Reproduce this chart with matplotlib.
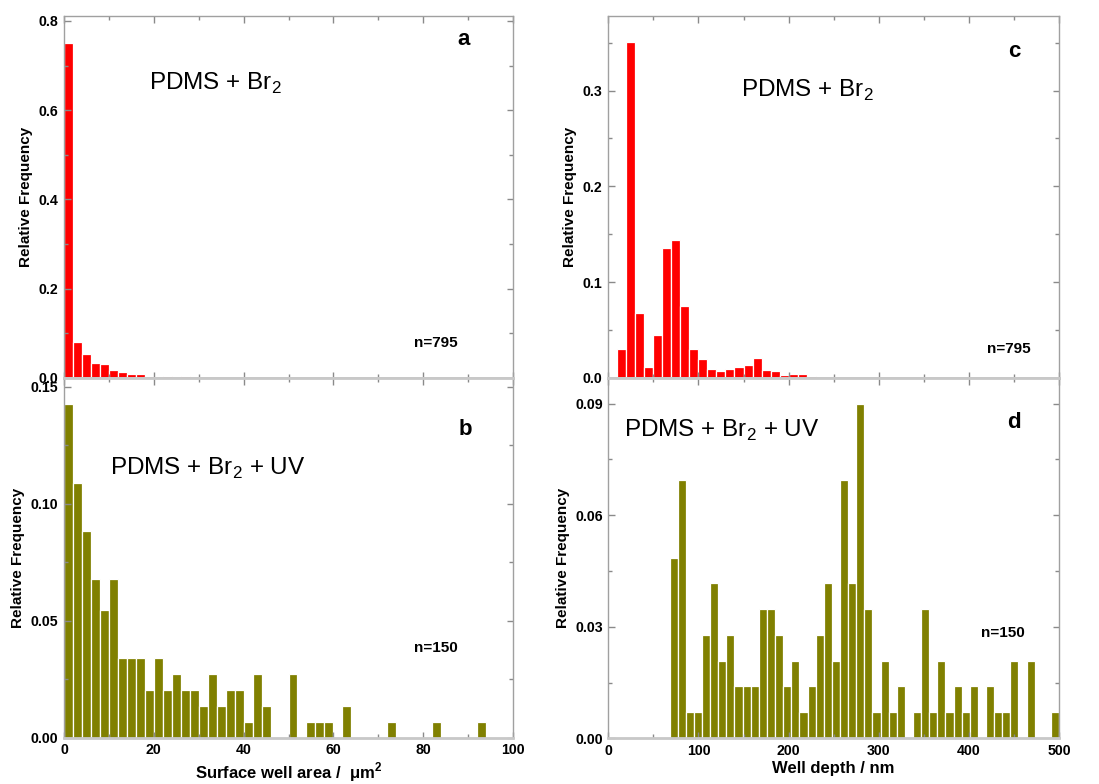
import numpy as np
import matplotlib
matplotlib.use("Agg")
import matplotlib.pyplot as plt
from matplotlib.ticker import MultipleLocator, FormatStrFormatter

plt.rcParams['font.family'] = ['Liberation Sans', 'DejaVu Sans']
plt.rcParams['mathtext.fontset'] = 'custom'
plt.rcParams['mathtext.rm'] = 'Liberation Sans'

# ---------------- data ----------------
# panel a: surface well area, PDMS + Br2 (bins of 2 um^2 starting at 0)
area_bin_width = 2
area_br2_freq = [0.7514, 0.079, 0.053, 0.033, 0.030, 0.018, 0.0135, 0.0075, 0.0075,
                 0.0045, 0.002, 0.0037, 0.0, 0.0045, 0.002, 0.002, 0.0, 0.0, 0.002]
# panel b: surface well area, PDMS + Br2 + UV
area_uv_freq = [0.1425, 0.1087, 0.0883, 0.0678, 0.0544, 0.0678, 0.0339, 0.0339, 0.0339,
                0.0202, 0.0339, 0.0202, 0.0271, 0.0202, 0.0202, 0.0134, 0.0271, 0.0134,
                0.0202, 0.0202, 0.0067, 0.0271, 0.0134, 0.0, 0.0, 0.0271, 0.0, 0.0067,
                0.0067, 0.0067, 0.0, 0.0134, 0.0, 0.0, 0.0, 0.0, 0.0067, 0.0, 0.0, 0.0,
                0.0, 0.0067, 0.0, 0.0, 0.0, 0.0, 0.0067]
# panel c: well depth, PDMS + Br2 (bins of 10 nm starting at 10)
depth_br2_start = 10
depth_br2_width = 10
depth_br2_freq = [0.0296, 0.3505, 0.0673, 0.0112, 0.0446, 0.1353, 0.1444, 0.075, 0.0296,
                  0.0192, 0.0091, 0.0066, 0.0091, 0.0112, 0.0129, 0.0202, 0.008, 0.0066,
                  0.0028, 0.0038, 0.0038, 0.0017]
# panel d: well depth, PDMS + Br2 + UV (bins of 9 nm starting at 68)
depth_uv_start = 68
depth_uv_width = 9
depth_uv_freq = [0.0485, 0.0694, 0.007, 0.007, 0.0278, 0.0417, 0.0209, 0.0278, 0.014,
                 0.014, 0.014, 0.0347, 0.0347, 0.0278, 0.014, 0.0209, 0.007, 0.014,
                 0.0278, 0.0417, 0.0209, 0.0694, 0.0417, 0.0898, 0.0347, 0.007, 0.0209,
                 0.007, 0.014, 0.0, 0.007, 0.0347, 0.007, 0.0209, 0.007, 0.014, 0.007,
                 0.014, 0.0, 0.014, 0.007, 0.007, 0.0209, 0.0, 0.0209, 0.0, 0.0, 0.007]

panel_letters = ['a', 'b', 'c', 'd']
sample_labels = [r'PDMS + Br$_\mathregular{2}$', r'PDMS + Br$_\mathregular{2}$ + UV',
                 r'PDMS + Br$_\mathregular{2}$', r'PDMS + Br$_\mathregular{2}$ + UV']
n_labels = ['n=795', 'n=150', 'n=795', 'n=150']

RED = '#ff0000'
OLIVE = '#808000'

fig = plt.figure(figsize=(10.99, 7.84), dpi=100)
W, H = 1099, 784

def mk(x0, x1, ytop, ybot):
    return fig.add_axes([x0 / W, 1 - ybot / H, (x1 - x0) / W, (ybot - ytop) / H])

ax_a = mk(64, 513, 16, 377.7)
ax_b = mk(64, 513, 377.7, 737.7)
ax_c = mk(608.3, 1059, 16, 377.7)
ax_d = mk(608.3, 1059, 377.7, 738.3)

def bars(ax, start, width, vals, color):
    left = start + width * np.arange(len(vals))
    ax.bar(left, vals, width=width, align='edge', color=color,
           edgecolor='white', linewidth=0.9)

bars(ax_a, 0, area_bin_width, area_br2_freq, RED)
bars(ax_b, 0, area_bin_width, area_uv_freq, OLIVE)
bars(ax_c, depth_br2_start, depth_br2_width, depth_br2_freq, RED)
bars(ax_d, depth_uv_start, depth_uv_width, depth_uv_freq, OLIVE)

cfg = [
    (ax_a, (0, 100), (0, 0.811), 0.2, 0.1, '%.1f', 20, 10),
    (ax_b, (0, 100), (0, 0.1538), 0.05, 0.025, '%.2f', 20, 10),
    (ax_c, (0, 500), (0, 0.378), 0.1, 0.05, '%.1f', 100, 50),
    (ax_d, (0, 500), (0, 0.097), 0.03, 0.015, '%.2f', 100, 50),
]
for ax, xl, yl, ymaj, ymin, fmt, xmaj, xmin in cfg:
    ax.set_xlim(*xl)
    ax.set_ylim(*yl)
    ax.yaxis.set_major_locator(MultipleLocator(ymaj))
    ax.yaxis.set_minor_locator(MultipleLocator(ymin))
    ax.yaxis.set_major_formatter(FormatStrFormatter(fmt))
    ax.xaxis.set_major_locator(MultipleLocator(xmaj))
    ax.xaxis.set_minor_locator(MultipleLocator(xmin))
    ax.tick_params(which='both', direction='in', top=True, right=True,
                   color='#8a8a8a', width=1.0)
    ax.tick_params(which='major', length=6.5 * 72 / 100, labelsize=10.2, pad=4)
    ax.tick_params(which='minor', length=4 * 72 / 100)
    for lab in ax.get_xticklabels() + ax.get_yticklabels():
        lab.set_fontweight('bold')
    for s in ['left', 'right', 'top']:
        ax.spines[s].set_color('#a0a0a0')
        ax.spines[s].set_linewidth(1.0)
    ax.spines['bottom'].set_color('#c8c8c8')
    ax.spines['bottom'].set_linewidth(2.0)
    ax.set_ylabel('Relative Frequency', fontsize=11, fontweight='bold', labelpad=4)

for ax in (ax_b, ax_d):
    ax.spines['top'].set_color('#c8c8c8')
    ax.spines['top'].set_linewidth(2.0)

ax_a.tick_params(labelbottom=False)
ax_c.tick_params(labelbottom=False)

ax_b.set_xlabel(r'Surface well area /  $\mathregular{\mu}$m$^\mathregular{2}$', fontsize=12,
                fontweight='bold', labelpad=2)
ax_d.set_xlabel('Well depth / nm', fontsize=12, fontweight='bold', labelpad=2)

# text annotations (axes fractions)
letter_pos = [(0.889, 0.934), (0.893, 0.857), (0.901, 0.901), (0.899, 0.876)]
sample_pos = [(0.19, 0.795), (0.1024, 0.730), (0.294, 0.777), (0.035, 0.835)]
n_pos = [(0.78, 0.0857), (0.78, 0.239), (0.841, 0.069), (0.827, 0.28)]
for ax, let, lp, sl, sp, nl, npos in zip([ax_a, ax_b, ax_c, ax_d], panel_letters, letter_pos,
                                          sample_labels, sample_pos, n_labels, n_pos):
    ax.text(lp[0], lp[1], let, transform=ax.transAxes, ha='center', va='center',
            fontsize=16, fontweight='bold')
    ax.text(sp[0], sp[1], sl, transform=ax.transAxes, ha='left', va='baseline',
            fontsize=17.5)
    ax.text(npos[0], npos[1], nl, transform=ax.transAxes, ha='left', va='baseline',
            fontsize=11, fontweight='bold')

fig.savefig('out.png', dpi=100)
